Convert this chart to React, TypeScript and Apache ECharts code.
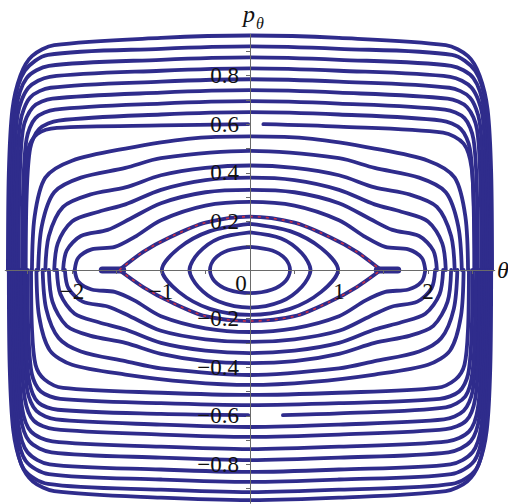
import React, { useEffect, useRef } from "react";
import * as echarts from "echarts";

// Phase portrait (theta, p_theta): librating orbits, separatrix and rotating orbits.

const INK = "#2f2c8c";
const SEP_RED = "#e5303a";
const AXIS = "#6a6a6a";
const FONT = '"Liberation Serif", "DejaVu Serif", serif';

// closed orbits around the origin
const LIB_1: number[][] = [[0,.095],[.25,.08],[.4,.045],[.45,0],[.4,-.045],[.25,-.08],[0,-.095],[-.25,-.08],[-.4,-.045],[-.45,0],[-.4,.045],[-.25,.08],[0,.095]];
const LIB_2: number[][] = [[0,.155],[.35,.13],[.58,.07],[.68,0],[.58,-.07],[.35,-.13],[0,-.155],[-.35,-.13],[-.58,-.07],[-.68,0],[-.58,.07],[-.35,.13],[0,.155]];
const LIB_3: number[][] = [[0,.19],[.45,.16],[.8,.09],[.99,0],[.8,-.09],[.45,-.16],[0,-.185],[-.45,-.16],[-.8,-.09],[-.99,0],[-.8,.09],[-.45,.16],[0,.19]];

// separatrix branches meeting at the saddles
const SEP_UPPER: number[][] = [[-1.47,0],[-1.2,.075],[-.9,.135],[-.5,.195],[0,.22],[.5,.195],[.9,.135],[1.2,.075],[1.47,0]];
const SEP_LOWER: number[][] = [[-1.47,0],[-1.2,-.07],[-.9,-.13],[-.5,-.19],[0,-.21],[.5,-.19],[.9,-.13],[1.2,-.07],[1.47,0]];
const SADDLE_L: number[][] = [[-1.66,0],[-1.43,0]];
const SADDLE_R: number[][] = [[1.43,0],[1.66,0]];

// upper halves of the outer orbits
const UPPER: number[][][] = [
  [[-1.97,0],[-1.93,.05],[-1.78,.085],[-1.52,.095],[-1.3,.135],[-1,.205],[-.5,.265],[0,.28],[.5,.265],[1,.205],[1.3,.135],[1.52,.095],[1.78,.085],[1.93,.05],[1.97,0]],
  [[-2.1,0],[-2.06,.08],[-1.9,.14],[-1.6,.165],[-1.35,.21],[-1,.275],[-.5,.32],[0,.33],[.5,.32],[1,.275],[1.35,.21],[1.6,.165],[1.9,.14],[2.06,.08],[2.1,0]],
  [[-2.2,0],[-2.16,.11],[-2,.2],[-1.7,.24],[-1.4,.27],[-1,.33],[-.5,.37],[0,.38],[.5,.37],[1,.33],[1.4,.27],[1.7,.24],[2,.2],[2.16,.11],[2.2,0]],
  [[-2.3,0],[-2.26,.14],[-2.1,.26],[-1.8,.31],[-1.4,.34],[-1,.39],[-.5,.42],[0,.43],[.5,.42],[1,.39],[1.4,.34],[1.8,.31],[2.1,.26],[2.26,.14],[2.3,0]],
  [[-2.38,0],[-2.34,.18],[-2.2,.32],[-1.9,.38],[-1.4,.42],[-1,.46],[0,.49],[1,.46],[1.4,.42],[1.9,.38],[2.2,.32],[2.34,.18],[2.38,0]],
  [[-2.45,0],[-2.42,.22],[-2.3,.38],[-2,.45],[-1.4,.5],[-.7,.54],[0,.55],[.7,.54],[1.4,.5],[2,.45],[2.3,.38],[2.42,.22],[2.45,0]],
  [[-2.52,0],[-2.51,.3],[-2.47,.5],[-2.37,.58],[-2.15,.615],[-1,.64],[0,.65],[1,.64],[2.15,.615],[2.37,.58],[2.47,.5],[2.51,.3],[2.52,0]],
  [[-2.56,0],[-2.55,.32],[-2.51,.54],[-2.41,.625],[-2.19,.66],[-1,.685],[0,.695],[1,.685],[2.19,.66],[2.41,.625],[2.51,.54],[2.55,.32],[2.56,0]],
  [[-2.6,0],[-2.59,.34],[-2.55,.58],[-2.44,.67],[-2.22,.705],[-1,.73],[0,.74],[1,.73],[2.22,.705],[2.44,.67],[2.55,.58],[2.59,.34],[2.6,0]],
  [[-2.63,0],[-2.62,.36],[-2.58,.61],[-2.47,.71],[-2.24,.75],[-1,.775],[0,.785],[1,.775],[2.24,.75],[2.47,.71],[2.58,.61],[2.62,.36],[2.63,0]],
  [[-2.66,0],[-2.65,.38],[-2.61,.64],[-2.49,.75],[-2.25,.795],[-1,.82],[0,.83],[1,.82],[2.25,.795],[2.49,.75],[2.61,.64],[2.65,.38],[2.66,0]],
  [[-2.68,0],[-2.67,.4],[-2.63,.66],[-2.51,.79],[-2.26,.84],[-1,.865],[0,.875],[1,.865],[2.26,.84],[2.51,.79],[2.63,.66],[2.67,.4],[2.68,0]],
  [[-2.7,0],[-2.69,.4],[-2.65,.68],[-2.53,.82],[-2.27,.885],[-1,.91],[0,.92],[1,.91],[2.27,.885],[2.53,.82],[2.65,.68],[2.69,.4],[2.7,0]],
  [[-2.72,0],[-2.71,.4],[-2.67,.66],[-2.58,.8],[-2.45,.88],[-2.2,.925],[-1,.955],[0,.965],[1,.955],[2.2,.925],[2.45,.88],[2.58,.8],[2.67,.66],[2.71,.4],[2.72,0]],
];

// lower halves of the outer orbits
const LOWER: number[][][] = [
  [[-1.97,0],[-1.93,-.047],[-1.78,-.08],[-1.52,-.09],[-1.3,-.125],[-1,-.19],[-.5,-.24],[0,-.255],[.5,-.24],[1,-.19],[1.3,-.125],[1.52,-.09],[1.78,-.08],[1.93,-.047],[1.97,0]],
  [[-2.08,0],[-2.04,-.075],[-1.88,-.13],[-1.6,-.15],[-1.35,-.19],[-1,-.25],[-.5,-.285],[0,-.296],[.5,-.285],[1,-.25],[1.35,-.19],[1.6,-.15],[1.88,-.13],[2.04,-.075],[2.08,0]],
  [[-2.17,0],[-2.13,-.1],[-1.97,-.18],[-1.7,-.215],[-1.4,-.245],[-1,-.3],[-.5,-.332],[0,-.342],[.5,-.332],[1,-.3],[1.4,-.245],[1.7,-.215],[1.97,-.18],[2.13,-.1],[2.17,0]],
  [[-2.26,0],[-2.22,-.13],[-2.06,-.23],[-1.8,-.27],[-1.4,-.3],[-1,-.345],[-.5,-.375],[0,-.383],[.5,-.375],[1,-.345],[1.4,-.3],[1.8,-.27],[2.06,-.23],[2.22,-.13],[2.26,0]],
  [[-2.33,0],[-2.29,-.16],[-2.15,-.28],[-1.9,-.335],[-1.4,-.375],[-1,-.405],[0,-.432],[1,-.405],[1.4,-.375],[1.9,-.335],[2.15,-.28],[2.29,-.16],[2.33,0]],
  [[-2.4,0],[-2.37,-.19],[-2.25,-.33],[-2,-.39],[-1.4,-.43],[-.7,-.46],[0,-.473],[.7,-.46],[1.4,-.43],[2,-.39],[2.25,-.33],[2.37,-.19],[2.4,0]],
  [[-2.46,0],[-2.45,-.24],[-2.41,-.39],[-2.31,-.45],[-2.1,-.485],[-1,-.505],[0,-.514],[1,-.505],[2.1,-.485],[2.31,-.45],[2.41,-.39],[2.45,-.24],[2.46,0]],
  [[-2.5,0],[-2.49,-.26],[-2.45,-.43],[-2.35,-.5],[-2.13,-.53],[-1,-.548],[0,-.556],[1,-.548],[2.13,-.53],[2.35,-.5],[2.45,-.43],[2.49,-.26],[2.5,0]],
  [[-2.55,0],[-2.54,-.3],[-2.5,-.5],[-2.4,-.58],[-2.18,-.615],[-1,-.636],[0,-.646],[1,-.636],[2.18,-.615],[2.4,-.58],[2.5,-.5],[2.54,-.3],[2.55,0]],
  [[-2.58,0],[-2.57,-.32],[-2.53,-.53],[-2.43,-.62],[-2.2,-.655],[-1,-.677],[0,-.687],[1,-.677],[2.2,-.655],[2.43,-.62],[2.53,-.53],[2.57,-.32],[2.58,0]],
  [[-2.61,0],[-2.6,-.34],[-2.56,-.57],[-2.46,-.665],[-2.22,-.705],[-1,-.727],[0,-.737],[1,-.727],[2.22,-.705],[2.46,-.665],[2.56,-.57],[2.6,-.34],[2.61,0]],
  [[-2.63,0],[-2.62,-.36],[-2.58,-.6],[-2.48,-.705],[-2.23,-.75],[-1,-.772],[0,-.782],[1,-.772],[2.23,-.75],[2.48,-.705],[2.58,-.6],[2.62,-.36],[2.63,0]],
  [[-2.65,0],[-2.64,-.38],[-2.6,-.64],[-2.5,-.75],[-2.25,-.8],[-1,-.821],[0,-.831],[1,-.821],[2.25,-.8],[2.5,-.75],[2.6,-.64],[2.64,-.38],[2.65,0]],
  [[-2.67,0],[-2.66,-.4],[-2.62,-.66],[-2.52,-.785],[-2.26,-.84],[-1,-.862],[0,-.872],[1,-.862],[2.26,-.84],[2.52,-.785],[2.62,-.66],[2.66,-.4],[2.67,0]],
  [[-2.69,0],[-2.68,-.4],[-2.64,-.68],[-2.54,-.82],[-2.27,-.88],[-1,-.904],[0,-.914],[1,-.904],[2.27,-.88],[2.54,-.82],[2.64,-.68],[2.68,-.4],[2.69,0]],
  [[-2.71,0],[-2.7,-.4],[-2.66,-.66],[-2.57,-.8],[-2.44,-.87],[-2.2,-.91],[-1,-.937],[0,-.947],[1,-.937],[2.2,-.91],[2.44,-.87],[2.57,-.8],[2.66,-.66],[2.7,-.4],[2.71,0]],
];

// two orbits that were only partly integrated (a gap near the p axis)
const PARTIAL_UP_L: number[][] = [[-2.54,0],[-2.53,.31],[-2.49,.5],[-2.39,.56],[-2.17,.585],[-1,.595],[-.02,.6]];
const PARTIAL_UP_R: number[][] = [[.15,.6],[1,.59],[2.17,.565],[2.4,.52],[2.49,.42],[2.52,.2],[2.53,0]];
const PARTIAL_DOWN_L: number[][] = [[-2.53,0],[-2.52,-.28],[-2.48,-.46],[-2.38,-.545],[-2.16,-.575],[-1,-.592],[-.02,-.597]];
const PARTIAL_DOWN_R: number[][] = [[.37,-.597],[1,-.59],[2.2,-.565],[2.42,-.52],[2.5,-.42],[2.53,-.2],[2.54,0]];

const X_TICKS = [-2.5, -2, -1.5, -1, -0.5, 0.5, 1, 1.5, 2, 2.5];
const X_LABELS = [-2, -1, 1, 2];
const Y_TICKS = [-0.9, -0.8, -0.7, -0.6, -0.5, -0.4, -0.3, -0.2, -0.1, 0.1, 0.2, 0.3, 0.4, 0.5, 0.6, 0.7, 0.8, 0.9];
const Y_LABELS = [-0.8, -0.6, -0.4, -0.2, 0.2, 0.4, 0.6, 0.8];

// grid geometry: theta in [-2.75, 2.75], p in [-0.96, 0.97]
const W = 508;
const H = 504;
const GRID = { left: 5.25, right: 13.25, top: 34.3, bottom: 0.7 };
const X_MIN = -2.75, X_MAX = 2.75, Y_MIN = -0.96, Y_MAX = 0.97;

const fmt = (v: number, digits: number) => {
  const s = Math.abs(v).toFixed(digits);
  return v < 0 ? "\u2212" + s : s;
};

function orbit(data: number[][], z = 2) {
  return {
    type: "line",
    data,
    showSymbol: false,
    smooth: 0.3,
    z,
    lineStyle: { color: INK, width: 3.8, cap: "round", join: "round" },
    silent: true,
  };
}

export default function App() {
  const ref = useRef<HTMLDivElement>(null);

  useEffect(() => {
    if (!ref.current) return;
    const chart = echarts.init(ref.current, undefined, { renderer: "svg" });

    // place both axes through the origin
    const gw = W - GRID.left - GRID.right;
    const gh = H - GRID.top - GRID.bottom;
    const yAxisShift = -(gw * (0 - X_MIN)) / (X_MAX - X_MIN);
    const xAxisShift = -(gh * (0 - Y_MIN)) / (Y_MAX - Y_MIN);

    const series: any[] = [];
    UPPER.forEach((d) => series.push(orbit(d)));
    LOWER.forEach((d) => series.push(orbit(d)));
    [PARTIAL_UP_L, PARTIAL_UP_R, PARTIAL_DOWN_L, PARTIAL_DOWN_R].forEach((d) => series.push(orbit(d)));
    series.push(orbit(LIB_1), orbit(LIB_2), orbit(LIB_3));
    series.push(orbit(SEP_UPPER), orbit(SEP_LOWER));
    [SADDLE_L, SADDLE_R].forEach((d) =>
      series.push({
        type: "line",
        data: d,
        showSymbol: false,
        z: 3,
        silent: true,
        lineStyle: { color: INK, width: 7, cap: "round" },
      })
    );
    [SEP_UPPER, SEP_LOWER].forEach((d) =>
      series.push({
        type: "line",
        data: d,
        showSymbol: false,
        smooth: 0.3,
        z: 4,
        silent: true,
        lineStyle: { color: SEP_RED, width: 1.6, type: [3, 5], opacity: 0.85 },
      })
    );

    chart.setOption({
      animation: false,
      grid: { ...GRID, containLabel: false, outerBoundsMode: "none" },
      xAxis: {
        type: "value",
        min: X_MIN,
        max: X_MAX,
        position: "bottom",
        offset: xAxisShift,
        z: 5,
        axisLine: { onZero: false, lineStyle: { color: AXIS, width: 1 } },
        axisTick: { customValues: X_TICKS, length: 4, lineStyle: { color: AXIS } },
        axisLabel: {
          customValues: X_LABELS,
          formatter: (v: number) => fmt(v, 0),
          fontFamily: FONT,
          fontSize: 23,
          color: "#111",
          margin: 10,
        },
        splitLine: { show: false },
      },
      yAxis: {
        type: "value",
        min: Y_MIN,
        max: Y_MAX,
        position: "left",
        offset: yAxisShift,
        z: 5,
        axisLine: { onZero: false, lineStyle: { color: AXIS, width: 1 } },
        axisTick: { customValues: Y_TICKS, length: 4, lineStyle: { color: AXIS } },
        axisLabel: {
          customValues: Y_LABELS,
          formatter: (v: number) => fmt(v, 1),
          fontFamily: FONT,
          fontSize: 23,
          color: "#111",
          margin: 11,
        },
        splitLine: { show: false },
      },
      series,
      graphic: [
        { type: "text", z: 10, style: { text: "p", x: 243, y: 14, verticalAlign: "middle", font: `italic 24px ${FONT}`, fill: "#111" } },
        { type: "text", z: 10, style: { text: "θ", x: 256, y: 23, verticalAlign: "middle", font: `italic 16px ${FONT}`, fill: "#111" } },
        { type: "text", z: 10, style: { text: "θ", x: 497, y: 270, verticalAlign: "middle", font: `italic 24px ${FONT}`, fill: "#111" } },
        { type: "text", z: 10, style: { text: "0", x: 241, y: 283, align: "center", verticalAlign: "middle", font: `23px ${FONT}`, fill: "#111" } },
      ],
    });

    return () => chart.dispose();
  }, []);

  return (
    <div
      ref={ref}
      style={{ position: "fixed", left: 0, top: 0, width: W, height: H, background: "#fff" }}
    />
  );
}
